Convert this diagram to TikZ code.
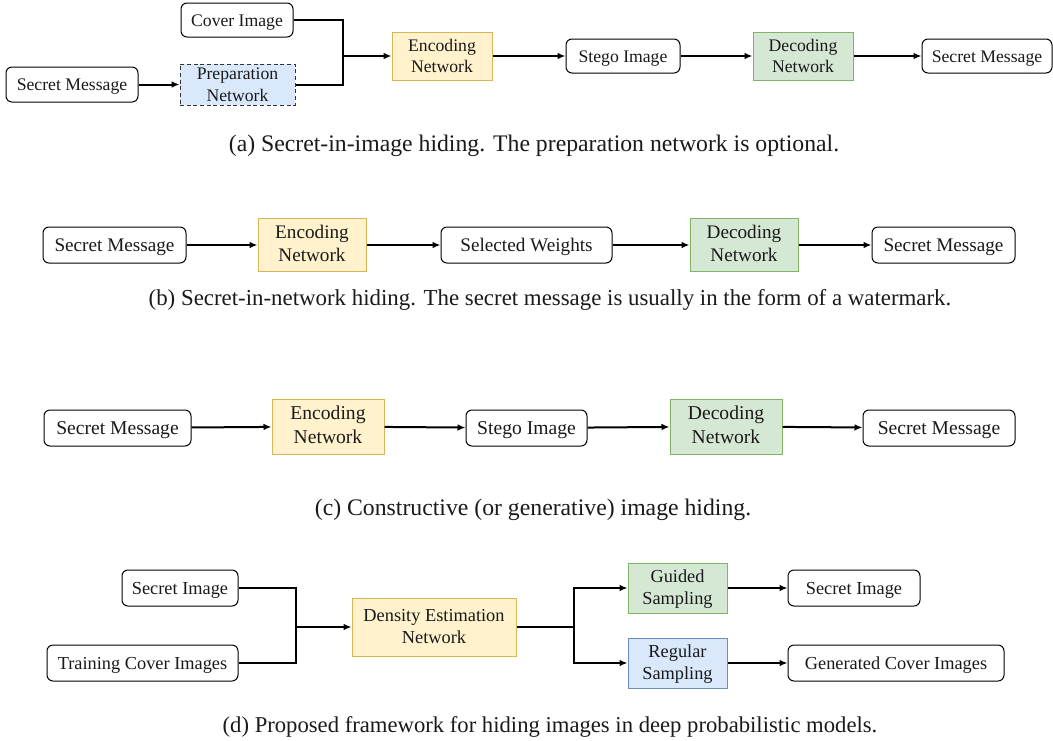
\documentclass[tikz,border=0pt]{standalone}
\usepackage{fontspec}
\setmainfont{Liberation Serif}
\usetikzlibrary{arrows.meta,positioning}
\definecolor{encfill}{HTML}{FFF2CC}\definecolor{encdraw}{HTML}{D6B656}
\definecolor{decfill}{HTML}{D5E8D4}\definecolor{decdraw}{HTML}{82B366}
\definecolor{regfill}{HTML}{DAE8FC}\definecolor{regdraw}{HTML}{6C8EBF}
\definecolor{txt}{HTML}{1A1A1A}
\tikzset{
  base/.style={inner sep=0pt, align=center, text=txt, line width=0.75pt, text height=1.17em, text depth=0.22em},
  two/.style={text height=2.71em},
  plainbox/.style={base, draw=black, fill=white, rounded corners=4.5pt},
  encbox/.style={base, two, draw=encdraw, fill=encfill},
  decbox/.style={base, two, draw=decdraw, fill=decfill},
  regbox/.style={base, two, draw=regdraw, fill=regfill},
  prepbox/.style={base, two, draw=black!80, fill=regfill, dashed, dash pattern=on 3pt off 2pt},
  sz/.style 2 args={minimum width={#1*0.75pt}, minimum height={#2*0.75pt}},
  conn/.style={line width=1.5pt, draw=black},
  arr/.style={conn, -{Latex[length=6pt,width=5pt]}},
  captext/.style={inner sep=0pt, anchor=base, text=txt, font=\fontsize{#1}{21}\selectfont},
  fa/.style={font=\fontsize{13.25}{15.9}\selectfont},
  fb/.style={font=\fontsize{14.4}{17.2}\selectfont},
  fc/.style={font=\fontsize{14.7}{17.6}\selectfont},
  fd/.style={font=\fontsize{13.75}{16.4}\selectfont},
}
\begin{document}
\begin{tikzpicture}[x=0.75pt,y=-0.75pt]
\useasboundingbox (0,0) rectangle (1053,740);
% (a)
\node[plainbox,fa,sz={112}{34}] (cover) at (237,20) {Cover Image};
\node[plainbox,fa,sz={132}{35}] (sm1) at (72,84.5) {Secret Message};
\node[prepbox,fa,sz={115}{41}] (prep) at (237.5,84.5) {Preparation\\Network};
\node[encbox,fa,sz={100}{48}] (enc1) at (442,56) {Encoding\\Network};
\node[plainbox,fa,sz={114}{34}] (stego1) at (623,56) {Stego Image};
\node[decbox,fa,sz={100}{48}] (dec1) at (803,56) {Decoding\\Network};
\node[plainbox,fa,sz={130}{34}] (sm1b) at (987,56) {Secret Message};
\coordinate (j1) at (343,56);
\draw[conn] (cover.east) -| (j1);
\draw[conn] (prep.east) -| (j1);
\draw[arr] (j1) -- (enc1.west);
\draw[arr] (sm1.east) -- (prep.west);
\draw[arr] (enc1.east) -- (stego1.west);
\draw[arr] (stego1.east) -- (dec1.west);
\draw[arr] (dec1.east) -- (sm1b.west);
\node[captext=17.8] (capa) at (534,151) {(a) Secret-in-image hiding. The preparation network is optional.};
% (b)
\node[plainbox,fb,sz={143}{36}] (sm2) at (114.5,245) {Secret Message};
\node[encbox,fb,sz={108}{53}] (enc2) at (312,245) {Encoding\\Network};
\node[plainbox,fb,sz={171}{36}] (sw) at (526.5,245) {Selected Weights};
\node[decbox,fb,sz={108}{53}] (dec2) at (744,245) {Decoding\\Network};
\node[plainbox,fb,sz={143}{36}] (sm2b) at (943.5,245) {Secret Message};
\draw[arr] (sm2) -- (enc2);
\draw[arr] (enc2) -- (sw);
\draw[arr] (sw) -- (dec2);
\draw[arr] (dec2) -- (sm2b);
\node[captext=17.15] (capb) at (550,305) {(b) Secret-in-network hiding. The secret message is usually in the form of a watermark.};
% (c)
\node[plainbox,fc,sz={147}{36}] (sm3) at (117.5,428) {Secret Message};
\node[encbox,fc,sz={112}{55}] (enc3) at (328,426.5) {Encoding\\Network};
\node[plainbox,fc,sz={121}{36}] (stego3) at (526.5,428) {Stego Image};
\node[decbox,fc,sz={112}{55}] (dec3) at (726,426.5) {Decoding\\Network};
\node[plainbox,fc,sz={152}{36}] (sm3b) at (939,428) {Secret Message};
\draw[arr] (sm3) -- (enc3);
\draw[arr] (enc3) -- (stego3);
\draw[arr] (stego3) -- (dec3);
\draw[arr] (dec3) -- (sm3b);
\node[captext=17.8] (capc) at (533,515) {(c) Constructive (or generative) image hiding.};
% (d)
\node[plainbox,fd,sz={116}{36}] (si) at (180,588) {Secret Image};
\node[plainbox,fd,sz={191}{36}] (tci) at (142.5,663) {Training Cover Images};
\node[encbox,fd,sz={164}{58}] (den) at (434,627) {Density Estimation\\Network};
\node[decbox,fd,sz={99}{50}] (gs) at (677.5,588) {Guided\\Sampling};
\node[regbox,fd,sz={99}{50}] (rs) at (677.5,663) {Regular\\Sampling};
\node[plainbox,fd,sz={132}{36}] (si2) at (854,588) {Secret Image};
\node[plainbox,fd,sz={216}{36}] (gci) at (896,663) {Generated Cover Images};
\coordinate (j2) at (296,627);
\coordinate (j3) at (574,627);
\draw[conn] (si.east) -| (j2);
\draw[conn] (tci.east) -| (j2);
\draw[arr] (j2) -- (den.west);
\draw[conn] (den.east) -- (j3);
\draw[arr] (j3) |- (gs.west);
\draw[arr] (j3) |- (rs.west);
\draw[arr] (gs) -- (si2);
\draw[arr] (rs) -- (gci);
\node[captext=17.0] (capd) at (550,732) {(d) Proposed framework for hiding images in deep probabilistic models.};
\end{tikzpicture}
\end{document}
